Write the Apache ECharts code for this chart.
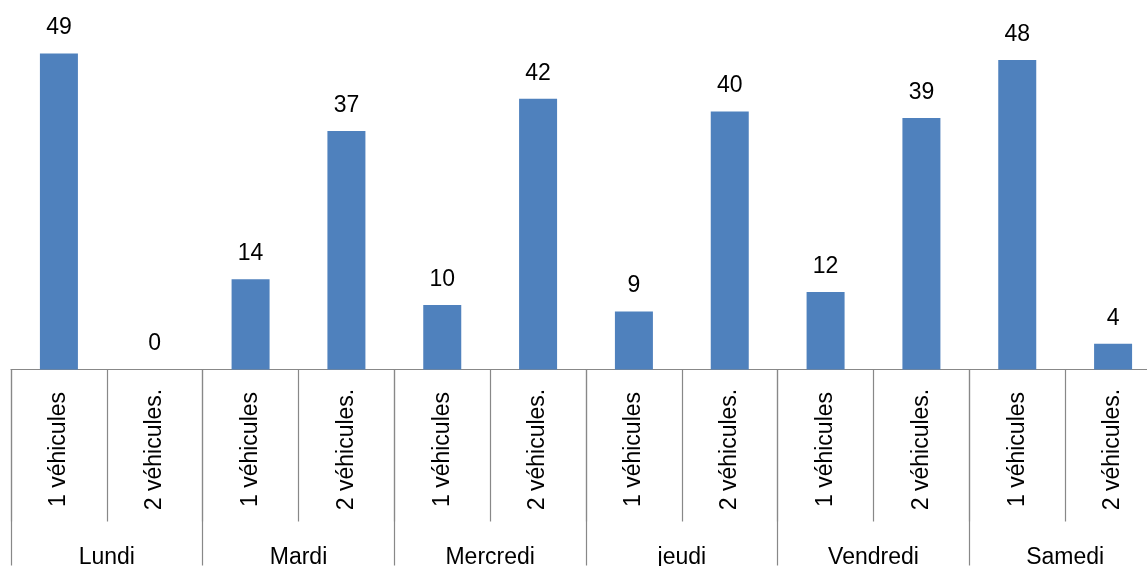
<!DOCTYPE html>
<html>
<head>
<meta charset="utf-8">
<script src="https://cdn.jsdelivr.net/npm/echarts@6/dist/echarts.min.js"></script>
<style>
  html, body { margin: 0; padding: 0; background: #fff; }
  #chart { width: 1147px; height: 566px; }
</style>
</head>
<body>
<div id="chart"></div>
<script>
// jours et types de véhicules (axe à deux niveaux)
var days = ['Lundi', 'Mardi', 'Mercredi', 'jeudi', 'Vendredi', 'Samedi'];
var types = ['1 véhicules', '2 véhicules.'];
var values = [49, 0, 14, 37, 10, 42, 9, 40, 12, 39, 48, 4];

// une catégorie par barre : type répété pour chaque jour
var innerCats = [];
days.forEach(function () {
  types.forEach(function (t) { innerCats.push(t); });
});

var font = 'Liberation Sans';
var lineColor = '#888888';

var chart = echarts.init(document.getElementById('chart'), null, { renderer: 'canvas' });

var option = {
  animation: false,
  // le graphique d'origine déborde à droite et en bas
  grid: { left: 11, width: 1150, top: 0, bottom: 196.5, outerBoundsMode: 'none', containLabel: false },
  xAxis: [
    {
      type: 'category',
      data: innerCats,
      position: 'bottom',
      axisLine: { show: true, lineStyle: { color: lineColor, width: 1.2 } },
      axisTick: { show: true, length: 152, lineStyle: { color: lineColor, width: 1.2 } },
      axisLabel: {
        interval: 0,
        rotate: 90,
        align: 'center',
        margin: 80,
        color: '#000',
        fontFamily: font,
        fontSize: 23
      }
    },
    {
      type: 'category',
      data: days,
      position: 'bottom',
      axisLine: { show: false },
      axisTick: { show: true, length: 196, lineStyle: { color: lineColor, width: 1.2 } },
      axisLabel: {
        interval: 0,
        margin: 177,
        color: '#000',
        fontFamily: font,
        fontSize: 23
      }
    }
  ],
  yAxis: {
    type: 'value',
    min: 0,
    max: 57.3,
    show: false
  },
  series: [
    {
      type: 'bar',
      xAxisIndex: 0,
      data: values,
      barWidth: 38,
      itemStyle: { color: '#4F81BD' },
      label: {
        show: true,
        position: 'top',
        distance: 14,
        color: '#000',
        fontFamily: font,
        fontSize: 23
      }
    }
  ]
};

chart.setOption(option);
window.addEventListener('resize', function () { chart.resize(); });
</script>
</body>
</html>
